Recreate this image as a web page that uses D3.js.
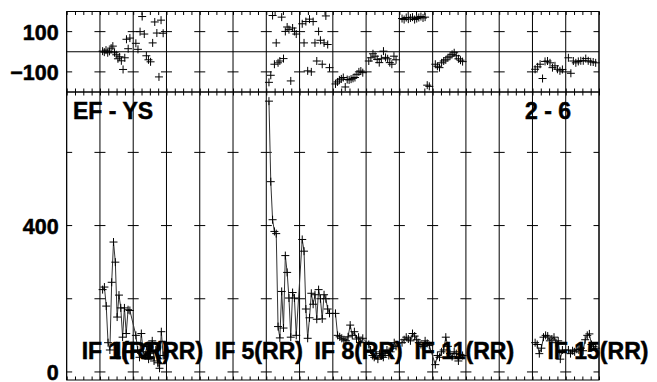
<!DOCTYPE html>
<html>
<head>
<meta charset="utf-8">
<script src="https://cdn.jsdelivr.net/npm/d3@7"></script>
<style>
body { margin: 0; background: #fff; }
svg text { font-family: "Liberation Sans", Arial, sans-serif; font-weight: bold; fill: #000; stroke: #000; stroke-width: 0.5px; }
</style>
</head>
<body>
<div id="chart"></div>
<script>
// IFs (1..16) that carry data, with channel amplitudes and phases
var ifsWithData = [2, 3, 7, 8, 9, 10, 11, 12, 15, 16];

var ampByIF = [
	[225, 232, 180, 80, 60, 245, 355, 300, 150, 210, 175, 95, 175, 105, 170, 168],
	[100, 60, 40, 105, 55, 45, 70, 35, 50, 85, 30, 60, 25, 10, 110, 45],
	[740, 520, 416, 384, 378, 124, 93, 220, 120, 318, 272, 202, 95, 217, 202, 100],
	[362, 330, 172, 92, 148, 215, 185, 211, 144, 225, 200, 145, 211, 200, 172, 160],
	[160, 100, 96, 92, 88, 85, 96, 128, 100, 110, 90, 95, 80, 92],
	[75, 60, 45, 40, 55, 35, 50, 45, 40, 50, 60, 45, 55, 65, 80, 70],
	[80, 88, 95, 90, 85, 105, 98, 88, 80, 75, 70, 85, 78, 72],
	[20, 45, 40, 55, 60, 95, 70, 50, 42, 55, 50, 30, 48, 45],
	[80, 75, 50, 65, 95, 100, 98, 85, 90, 95, 80, 85, 35, 60],
	[60, 50, 58, 55, 62, 60, 65, 58, 88, 100, 104, 75, 70, 65]
];

var phaseByIF = [
	[3, -2, 8, -5, 2, 18, 28, -5, -15, -35, -25, -45, -88, -30, 62, 15, 68],
	[42, 12, 100, 175, 88, -20, -40, -50, 44, 148, 93, -125, 157, 92],
	[-152, -117, 180, -62, 44, -55, -46, 172, -34, 101, 123, 110, -145, 118, 101, 88],
	[139, 44, 150, -95, 162, -100, 150, 44, -46, 101, 57, -62, 44, 178, 36, -79],
	[-160, -150, -140, -135, -128, -175, -138, -140, -136, -132, -128, -112, -100, -96, -104],
	[-46, -30, -10, -22, -38, -54, -35, 3, -28, -35, -54, -62, -22, -40],
	[165, 160, 170, 162, 168, 172, 160, 165, 170, 175, 168, 172, -166, -172],
	[-62, -72, -79, -55, -46, -40, -30, -22, -13, -5, -20, -35, -42, -49],
	[-87, -75, -62, -133, -48, -46, -55, -79, -70, -87, -95, -88],
	[-30, -107, -46, -55, -48, -45, -45, -34, -45, -50, -51, -55]
];

// consecutive IFs whose amplitudes are joined into one line
var lineGroups = [[2, 3], [7, 8, 9, 10, 11, 12], [15, 16]];

var ifLabelNums = [1, 2, 5, 8, 11, 15];
var ifLabels = ["IF 1(RR)", "IF 2(RR)", "IF 5(RR)", "IF 8(RR)", "IF 11(RR)", "IF 15(RR)"];

var phaseTicks = [-100, 100];
var ampTicks = [0, 200, 400, 600];
var ampTickLabels = [0, 400];

var baselineName = "EF - YS";
var timeRange = "2 - 6";
var nIF = 16;

var IFPlot = function(_parentElement) {
	this.parentElement = _parentElement;
	this.initVis();
};

IFPlot.prototype.initVis = function() {
	var vis = this;

	vis.width = 657;
	vis.height = 382;
	vis.left = 66.67;
	vis.right = 599;
	vis.top = 11.5;
	vis.mid = 92;
	vis.bottom = 380;

	vis.svg = d3.select("#" + vis.parentElement).append("svg")
		.attr("width", vis.width)
		.attr("height", vis.height);

	vis.x = d3.scaleLinear().domain([0, nIF]).range([vis.left, vis.right]);
	vis.yPhase = d3.scaleLinear().domain([-200, 200]).range([vis.mid, vis.top]);
	vis.yAmp = d3.scaleLinear().domain([-22, 765]).range([vis.bottom, vis.mid]);

	vis.wrangleData();
};

IFPlot.prototype.wrangleData = function() {
	var vis = this;

	// place channels evenly inside their IF cell
	vis.points = [];
	ifsWithData.forEach(function(ifn, k) {
		var amps = ampByIF[k], phs = phaseByIF[k];
		amps.forEach(function(a, i) {
			vis.points.push({ ifn: ifn, pos: ifn - 1 + 0.08 + 0.82 * i / (amps.length - 1), amp: a });
		});
		phs.forEach(function(p, i) {
			vis.points.push({ ifn: ifn, pos: ifn - 1 + 0.08 + 0.82 * i / (phs.length - 1), phase: p });
		});
	});

	vis.ampLines = lineGroups.map(function(g) {
		return vis.points.filter(d => d.amp !== undefined && g.indexOf(d.ifn) >= 0);
	});

	vis.updateVis();
};

IFPlot.prototype.updateVis = function() {
	var vis = this;
	var boundaries = d3.range(0, nIF + 1);
	var minor = d3.range(0, nIF + 0.001, 0.25);

	// IF separators
	vis.svg.append("g").selectAll("line").data(boundaries).enter().append("line")
		.attr("x1", d => vis.x(d)).attr("x2", d => vis.x(d))
		.attr("y1", vis.top).attr("y2", vis.bottom)
		.attr("stroke", "#000").attr("stroke-width", 1);

	// frames
	[[vis.top, vis.mid], [vis.mid, vis.bottom]].forEach(function(p) {
		vis.svg.append("rect")
			.attr("x", vis.left).attr("y", p[0])
			.attr("width", vis.right - vis.left).attr("height", p[1] - p[0])
			.attr("fill", "none").attr("stroke", "#000").attr("stroke-width", 1);
	});

	// zero phase line
	vis.svg.append("line")
		.attr("x1", vis.left).attr("x2", vis.right)
		.attr("y1", vis.yPhase(0)).attr("y2", vis.yPhase(0))
		.attr("stroke", "#000");

	// minor ticks along the panel edges
	var edgeAxes = [
		[d3.axisBottom(vis.x), vis.top],
		[d3.axisTop(vis.x), vis.mid],
		[d3.axisBottom(vis.x), vis.mid],
		[d3.axisTop(vis.x), vis.bottom]
	];
	edgeAxes.forEach(function(a) {
		var g = vis.svg.append("g")
			.attr("transform", "translate(0," + a[1] + ")")
			.call(a[0].tickValues(minor).tickSize(3.5).tickFormat(""));
		g.select(".domain").remove();
		g.selectAll("line").attr("stroke", "#000");
	});

	// y ticks crossing every IF separator
	function crossTicks(scale, ticks) {
		var cross = [];
		boundaries.forEach(function(b) {
			ticks.forEach(function(t) { cross.push({ b: b, t: t }); });
		});
		vis.svg.append("g").selectAll("line").data(cross).enter().append("line")
			.attr("x1", d => d.b === 0 ? vis.x(d.b) : vis.x(d.b) - 5.5)
			.attr("x2", d => d.b === nIF ? vis.x(d.b) : vis.x(d.b) + 5.5)
			.attr("y1", d => scale(d.t)).attr("y2", d => scale(d.t))
			.attr("stroke", "#000");
	}
	crossTicks(vis.yPhase, phaseTicks);
	crossTicks(vis.yAmp, ampTicks);

	// y labels
	var phaseAxis = vis.svg.append("g")
		.attr("transform", "translate(" + vis.left + ",0)")
		.call(d3.axisLeft(vis.yPhase).tickValues(phaseTicks).tickSize(0).tickPadding(8));
	var ampAxis = vis.svg.append("g")
		.attr("transform", "translate(" + vis.left + ",0)")
		.call(d3.axisLeft(vis.yAmp).tickValues(ampTickLabels).tickSize(0).tickPadding(8));
	[phaseAxis, ampAxis].forEach(function(g) {
		g.select(".domain").remove();
		g.attr("font-family", null).attr("font-size", null);
		g.selectAll("text").style("font-size", "21.5px").attr("dy", "0.36em");
	});

	// amplitude lines
	var line = d3.line().x(d => vis.x(d.pos)).y(d => vis.yAmp(d.amp));
	vis.svg.append("g").selectAll("path").data(vis.ampLines).enter().append("path")
		.attr("d", line)
		.attr("fill", "none").attr("stroke", "#333").attr("stroke-width", 1);

	// "+" markers
	var plus = "M-4,0H4M0,-4V4";
	vis.svg.append("g").selectAll("path")
		.data(vis.points).enter().append("path")
		.attr("d", plus)
		.attr("transform", d => "translate(" + vis.x(d.pos) + "," +
			(d.amp !== undefined ? vis.yAmp(d.amp) : vis.yPhase(d.phase)) + ")")
		.attr("fill", "none").attr("stroke", "#000").attr("stroke-width", 1);

	// titles
	vis.svg.append("text").attr("x", 73).attr("y", 119).style("font-size", "23px").text(baselineName);
	vis.svg.append("text").attr("x", 525).attr("y", 119).style("font-size", "23px").text(timeRange);

	vis.svg.append("g").selectAll("text").data(ifLabelNums).enter().append("text")
		.attr("x", d => vis.x(d - 1) + 15)
		.attr("y", 359)
		.style("font-size", "23px")
		.text((d, i) => ifLabels[i]);
};

var plot = new IFPlot("chart");
</script>
</body>
</html>
